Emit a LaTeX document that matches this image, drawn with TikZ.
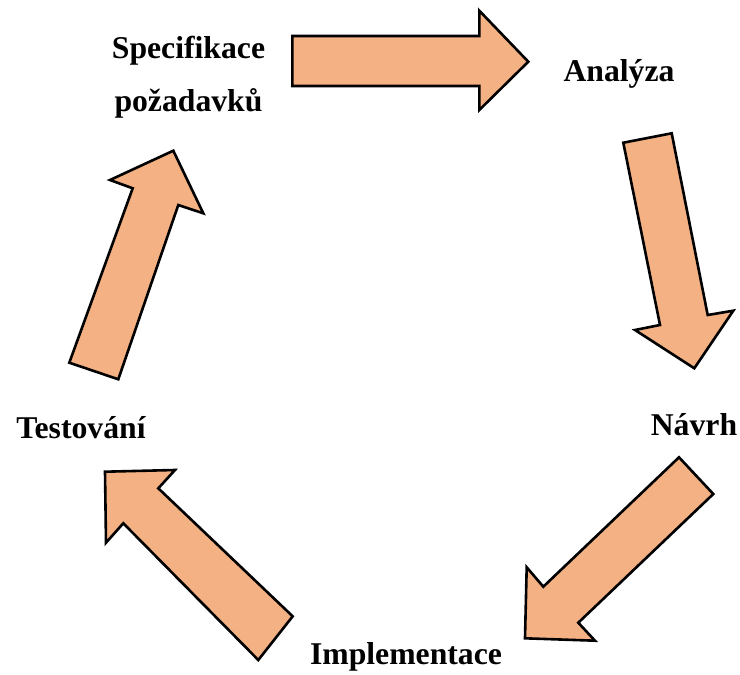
\documentclass[tikz,border=0pt]{standalone}
\usepackage{fontspec}
\setmainfont{Liberation Serif}
\definecolor{arrowfill}{HTML}{F4B183}
\begin{document}
\begin{tikzpicture}[x=1pt,y=-1pt,
  blockarrow/.style={fill=arrowfill,draw=black,line width=2.6pt,line join=miter},
  phase/.style={anchor=base,inner sep=0pt,font=\fontsize{31.7}{38}\selectfont\bfseries}]
\useasboundingbox (0,0) rectangle (740,675);

% phase labels
\node[phase] (spec1) at (188.5,58) {Specifikace};
\node[phase] (spec2) at (188.5,111.5) {požadavků};
\node[phase] (anal) at (619,81.5) {Analýza};
\node[phase] (navrh) at (694,435) {Návrh};
\node[phase] (impl) at (406,664) {Implementace};
\node[phase] (test) at (81,438.5) {Testování};

% block arrows between the phases
\filldraw[blockarrow] (292.3,36) -- (479.3,36) -- (479.3,10.7) -- (528.3,61.7)
  -- (479.3,110) -- (479.3,86) -- (292.3,86) -- cycle;
\filldraw[blockarrow] (623.3,142.7) -- (671.7,133.3) -- (707.7,315) -- (733.3,310.7)
  -- (694.3,368.3) -- (635,330) -- (660,325) -- cycle;
\filldraw[blockarrow] (679,457.3) -- (713.3,494) -- (578.3,622.7) -- (595,640.7)
  -- (525,638.3) -- (526.7,567.3) -- (543.3,586.7) -- cycle;
\filldraw[blockarrow] (292.7,616.3) -- (258.3,660) -- (123.3,523.3) -- (106,542.7)
  -- (105,471.7) -- (175,470) -- (158.3,488.3) -- cycle;
\filldraw[blockarrow] (69.3,362.7) -- (118.3,379.3) -- (178.3,205) -- (203.3,213.3)
  -- (173.3,150.7) -- (110,180) -- (132.7,188.3) -- cycle;
\end{tikzpicture}
\end{document}
